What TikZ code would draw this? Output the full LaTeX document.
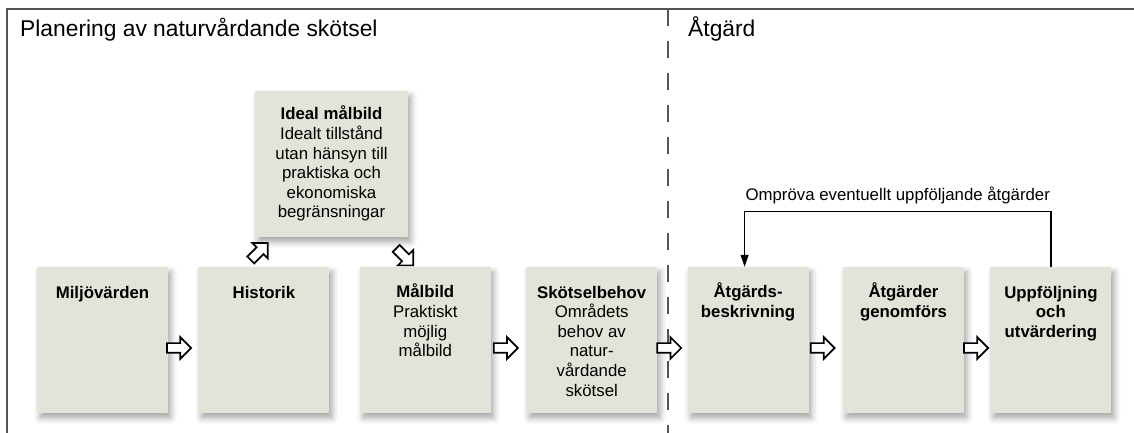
\documentclass[tikz,border=0pt]{standalone}
\usepackage{fontspec}
\setmainfont{Liberation Sans}
\usetikzlibrary{positioning,calc,shapes.arrows,arrows.meta,shadows.blur}

\definecolor{boxfill}{RGB}{225,229,217}
\definecolor{framegray}{RGB}{85,85,85}

\tikzset{
  box/.style={fill=boxfill, minimum height=146pt, inner sep=0pt,
    blur shadow={shadow xshift=3pt, shadow yshift=-5pt, shadow blur radius=6pt, shadow opacity=35}},
  boxtxt/.style={align=center, inner sep=0pt, font=\fontsize{16.8}{19.6}\selectfont},
  hollow/.style={single arrow, draw, fill=white, line width=1.7pt, inner sep=4pt,
    minimum height=24pt, minimum width=20pt, single arrow head extend=6pt},
  title/.style={anchor=base west, inner sep=0pt, font=\fontsize{22.8}{26}\selectfont}
}

\begin{document}
\begin{tikzpicture}[x=1pt, y=1pt]
        \useasboundingbox (0,0) rectangle (1134,433);

        % Frame and divider
        \draw[framegray, line width=1.2pt] (1134,424) -- (7,424) -- (7,0);
        \draw[framegray, line width=1.2pt, dash pattern=on 17pt off 15pt] (668,424) -- (668,0);
        \node[title] (plan) at (20,396) {Planering av naturvårdande skötsel};
        \node[title] (atg) at (688,396) {Åtgärd};

        % Draw the boxes
        \node[box, minimum width=131pt] (milj) at (102.5,93) {};
        \node[box, minimum width=131pt, right=30pt of milj] (hist) {};
        \node[box, minimum width=131pt, right=30pt of hist] (malb) {};
        \node[box, minimum width=131pt, right=35pt of malb] (skot) {};
        \node[box, minimum width=121pt, right=30pt of skot] (besk) {};
        \node[box, minimum width=121pt, right=34pt of besk] (genf) {};
        \node[box, minimum width=121pt, right=26pt of genf] (uppf) {};
        \node[box, minimum width=153pt] (ideal) at (331.5,269) {};

        % Box texts
        \node[boxtxt, below=19pt of milj.north] (milj-t) {\textbf{Miljövärden}};
        \node[boxtxt, below=19pt of hist.north] (hist-t) {\textbf{Historik}};
        \node[boxtxt, below=17pt of malb.north] (malb-t) {\textbf{Målbild}\\Praktiskt\\möjlig\\målbild};
        \node[boxtxt, below=19pt of skot.north] (skot-t) {\textbf{Skötselbehov}\\Områdets\\behov av\\natur-\\vårdande\\skötsel};
        \node[boxtxt, below=16pt of besk.north] (besk-t) {\textbf{Åtgärds-}\\\textbf{beskrivning}};
        \node[boxtxt, below=16pt of genf.north] (genf-t) {\textbf{Åtgärder}\\\textbf{genomförs}};
        \node[boxtxt, below=19pt of uppf.north] (uppf-t) {\textbf{Uppföljning}\\\textbf{och}\\\textbf{utvärdering}};
        \node[boxtxt, below=15pt of ideal.north] (ideal-t) {\textbf{Ideal målbild}\\Idealt tillstånd\\utan hänsyn till\\praktiska och\\ekonomiska\\begränsningar};

        % Hollow arrows between the boxes
        \node[hollow, anchor=west, yshift=-8pt] (a1) at ([xshift=-2pt]milj.east) {};
        \node[hollow, anchor=west, yshift=-8pt] (a2) at ([xshift=2pt]malb.east) {};
        \node[hollow, anchor=west, yshift=-8pt] (a3) at ([xshift=-1pt]skot.east) {};
        \node[hollow, anchor=west, yshift=-8pt] (a4) at ([xshift=1pt]besk.east) {};
        \node[hollow, anchor=west, yshift=-8pt] (a5) at ([xshift=-1pt]genf.east) {};
        \node[hollow, rotate=45] (up) at ($(ideal.south)+(-74,-16)$) {};
        \node[hollow, rotate=-45] (down) at ($(ideal.south)+(71.5,-18)$) {};

        % Feedback loop
        \coordinate (fb) at ([yshift=55pt]uppf.north);
        \coordinate (fbin) at ([xshift=-3.5pt]besk.north);
        \draw[line width=1.2pt, -{Triangle[length=12pt, width=8pt]}]
		(uppf.north) -- (fb) -- node[above=4pt, font=\fontsize{16.8}{19}\selectfont] (omp) {Ompröva eventuellt uppföljande åtgärder} (fb -| fbin) -- (fbin);

    \end{tikzpicture}
\end{document}
